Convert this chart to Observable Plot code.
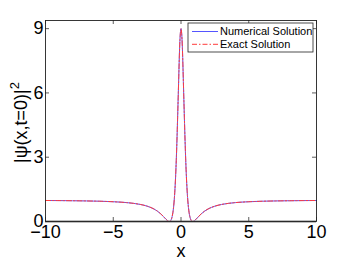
<!DOCTYPE html>
<html>
<head>
<meta charset="utf-8">
<script src="https://cdn.jsdelivr.net/npm/d3@7"></script>
<script src="https://cdn.jsdelivr.net/npm/@observablehq/plot@0.6"></script>
<style>
  html, body { margin: 0; padding: 0; background: #fff; }
  #chart svg { display: block; }
</style>
</head>
<body>
<div id="chart"></div>
<script>
// Values
const xs = [-10, -9, -8, -7, -6, -5, -4, -3.5, -3, -2.5, -2, -1.75, -1.5, -1.3, -1.2, -1.1, -1, -0.9, -0.87, -0.8, -0.75, -0.7, -0.65, -0.6, -0.55, -0.5, -0.45, -0.4, -0.35, -0.3, -0.25, -0.2, -0.15, -0.1, -0.05, 0,
            0.05, 0.1, 0.15, 0.2, 0.25, 0.3, 0.35, 0.4, 0.45, 0.5, 0.55, 0.6, 0.65, 0.7, 0.75, 0.8, 0.87, 0.9, 1, 1.1, 1.2, 1.3, 1.5, 1.75, 2, 2.5, 3, 3.5, 4, 5, 6, 7, 8, 9, 10];
const numerical = [0.980, 0.976, 0.969, 0.960, 0.946, 0.922, 0.881, 0.846, 0.796, 0.716, 0.585, 0.487, 0.360, 0.235, 0.167, 0.099, 0.040, 0.003, 0.000, 0.015, 0.053, 0.123, 0.237, 0.409, 0.656, 1.000, 1.464, 2.073, 2.839, 3.766, 4.840, 5.946, 7.101, 8.136, 8.762, 9.000,
                   8.762, 8.136, 7.101, 5.946, 4.840, 3.766, 2.839, 2.073, 1.464, 1.000, 0.656, 0.409, 0.237, 0.123, 0.053, 0.015, 0.000, 0.003, 0.040, 0.099, 0.167, 0.235, 0.360, 0.487, 0.585, 0.716, 0.796, 0.846, 0.881, 0.922, 0.946, 0.960, 0.969, 0.976, 0.980];
const exact = numerical.slice();
const xTicks = [-10, -5, 0, 5, 10];
const yTicks = [0, 3, 6, 9];
const seriesNames = ["Numerical Solution", "Exact Solution"];

const numData = xs.map((x, i) => ({x, y: numerical[i]}));
const exData = xs.map((x, i) => ({x, y: exact[i]}));

const W = 350, H = 263, mL = 45, mR = 34, mT = 20, mB = 42;
const pw = W - mL - mR, ph = H - mT - mB;
const FONT = "'Liberation Sans', Arial, Helvetica, sans-serif";

const plot = Plot.plot({
  width: W, height: H,
  marginLeft: mL, marginRight: mR, marginTop: mT, marginBottom: mB,
  style: {fontFamily: FONT, background: "#fff", color: "#000"},
  x: {domain: [-10, 10]},
  y: {domain: [0, 9.38]},
  marks: [
    Plot.line(numData, {x: "x", y: "y", stroke: "#5555ff", strokeWidth: 1, curve: "monotone-x"}),
    Plot.line(exData, {x: "x", y: "y", stroke: "#ff3b3b", strokeWidth: 1, strokeDasharray: "5,2,1.5,2", curve: "monotone-x"}),
    Plot.ruleY([0], {stroke: "#808080", strokeWidth: 2}),
    Plot.ruleX(xTicks, {x: d => d, insetTop: ph - 4, stroke: "#333", strokeWidth: 0.8}),
    Plot.ruleX(xTicks, {x: d => d, insetBottom: ph - 4, stroke: "#333", strokeWidth: 0.8}),
    Plot.ruleY(yTicks, {y: d => d, insetRight: pw - 4, stroke: "#333", strokeWidth: 0.8}),
    Plot.ruleY(yTicks, {y: d => d, insetLeft: pw - 4, stroke: "#333", strokeWidth: 0.8}),
    Plot.frame({stroke: "#222", strokeWidth: 0.9}),
    Plot.axisX({ticks: xTicks, tickSize: 0, tickPadding: 4, fontSize: 18, label: "x", labelAnchor: "center", labelArrow: "none", labelOffset: 35}),
    Plot.axisY({ticks: yTicks, tickSize: 0, tickPadding: 2, fontSize: 18, label: null})
  ]
});

document.getElementById("chart").appendChild(plot);

const svg = d3.select(plot);
// y label with superscript
const yl = svg.append("text")
  .attr("transform", `translate(27,${mT + ph / 2 + 2}) rotate(-90)`)
  .attr("text-anchor", "middle")
  .attr("font-family", FONT)
  .attr("font-size", 18)
  .attr("fill", "#000");
yl.append("tspan").text("|ψ(x,t=0)|");
yl.append("tspan").attr("dy", -8).attr("font-size", 13).text("2");

// legend
const lg = svg.append("g").attr("font-family", FONT).attr("font-size", 11).attr("text-anchor", "start");
lg.append("rect").attr("x", 188).attr("y", 23).attr("width", 125).attr("height", 29)
  .attr("fill", "#fff").attr("stroke", "#222").attr("stroke-width", 0.8);
const legendStyles = [
  {stroke: "#5555ff", dash: null},
  {stroke: "#ff3b3b", dash: "5,2,1.5,2"}
];
seriesNames.forEach((name, i) => {
  const cy = 31.5 + i * 12.8;
  const l = lg.append("line").attr("x1", 192).attr("x2", 218).attr("y1", cy).attr("y2", cy)
    .attr("stroke", legendStyles[i].stroke).attr("stroke-width", 1);
  if (legendStyles[i].dash) l.attr("stroke-dasharray", legendStyles[i].dash);
  lg.append("text").attr("x", 220).attr("y", cy).attr("dy", "0.35em").attr("text-anchor", "start").attr("fill", "#000").text(name);
});
</script>
</body>
</html>
